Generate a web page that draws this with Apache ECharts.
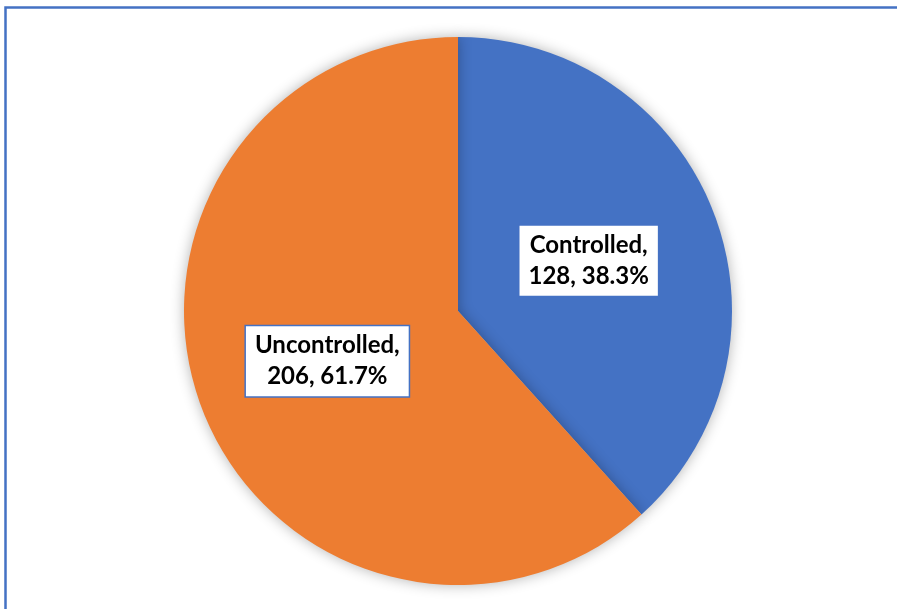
<!DOCTYPE html>
<html>
<head>
<meta charset="utf-8">
<script src="https://cdn.jsdelivr.net/npm/echarts@6/dist/echarts.min.js"></script>
<style>
html,body{margin:0;padding:0;background:#fff;}
#chart{width:897px;height:609px;}
</style>
</head>
<body>
<div id="chart"></div>
<script>
const categories = ['Controlled', 'Uncontrolled'];
const values = [128, 206];
const colors = ['#4472C4', '#ED7D31'];

const total = values.reduce((a, b) => a + b, 0);
const chart = echarts.init(document.getElementById('chart'), null, {renderer: 'canvas'});
chart.setOption({
  animation: false,
  backgroundColor: '#ffffff',
  graphic: [{
    type: 'rect',
    shape: {x: 5.5, y: 7.5, width: 900, height: 610},
    style: {fill: 'none', stroke: '#4472C4', lineWidth: 2.5},
    z: 0
  }],
  series: [{
    type: 'pie',
    center: [458, 311],
    radius: [0, 274],
    startAngle: 90,
    clockwise: true,
    data: categories.map((c, i) => ({name: c, value: values[i], itemStyle: {color: colors[i]}})),
    itemStyle: {
      shadowBlur: 14,
      shadowColor: 'rgba(0,0,0,0.3)',
      shadowOffsetX: 0,
      shadowOffsetY: 0
    },
    label: {
      show: true,
      position: 'inside',
      formatter: p => p.name + ',\n' + p.value + ', ' + (p.value / total * 100).toFixed(1) + '%',
      fontFamily: 'Lato',
      fontWeight: 'bold',
      fontSize: 24,
      lineHeight: 31,
      color: '#000',
      backgroundColor: '#fff',
      borderColor: '#4472C4',
      borderWidth: 1.5,
      padding: [5, 9, 3, 9],
      align: 'center'
    },
    labelLine: {show: false},
    emphasis: {disabled: true}
  }]
});
</script>
</body>
</html>
